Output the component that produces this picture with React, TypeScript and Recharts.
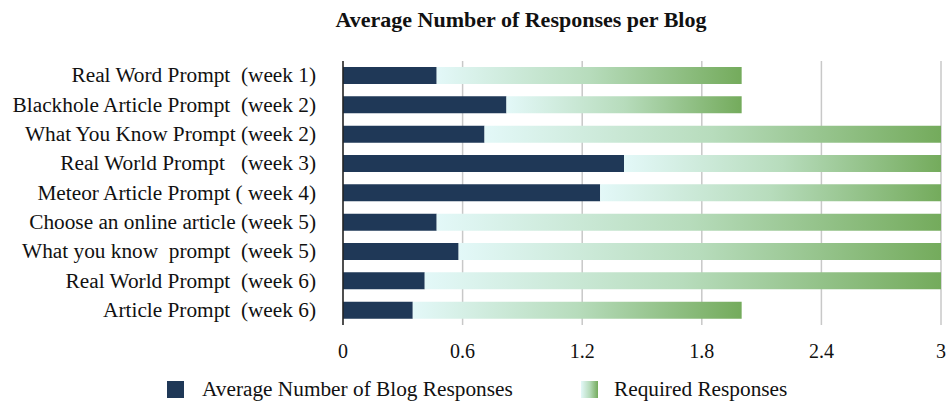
import React from 'react';
import { BarChart, Bar, XAxis, YAxis, CartesianGrid } from 'recharts';

const categories = [
  'Real Word Prompt  (week 1)',
  'Blackhole Article Prompt  (week 2)',
  'What You Know Prompt (week 2)',
  'Real World Prompt   (week 3)',
  'Meteor Article Prompt ( week 4)',
  'Choose an online article (week 5)',
  'What you know  prompt  (week 5)',
  'Real World Prompt  (week 6)',
  'Article Prompt  (week 6)',
];
const averageResponses = [0.47, 0.82, 0.71, 1.41, 1.29, 0.47, 0.58, 0.41, 0.35];
const requiredResponses = [2, 2, 3, 3, 3, 3, 3, 3, 2];
const xTicks = [0, 0.6, 1.2, 1.8, 2.4, 3];

const data = categories.map((name, i) => ({
  name,
  average: averageResponses[i],
  // required bar picks up where the average bar ends
  remaining: requiredResponses[i] - averageResponses[i],
}));

const FONT = '"Liberation Serif"';
const NAVY = '#1f3857';

const YTick = (props: any) => {
  const { x, y, payload } = props;
  return (
    <text x={x - 19} y={y} dy="0.32em" textAnchor="end" style={{ fontFamily: FONT, fontSize: 21.3, whiteSpace: 'pre' }} fill="#111">
      {payload.value}
    </text>
  );
};

const XTick = (props: any) => {
  const { x, y, payload } = props;
  return (
    <text x={x} y={y + 25} textAnchor="middle" style={{ fontFamily: FONT, fontSize: 20 }} fill="#111">
      {payload.value}
    </text>
  );
};

const ChartLegend = () => (
  <div style={{ position: 'absolute', left: 0, top: 377, width: 946, height: 24, fontFamily: FONT, fontSize: 21.3, color: '#111' }}>
    <span style={{ position: 'absolute', left: 167, top: 4, width: 17, height: 17, background: NAVY }} />
    <span style={{ position: 'absolute', left: 202, top: 0, lineHeight: '24px', whiteSpace: 'nowrap' }}>
      Average Number of Blog Responses
    </span>
    <span
      style={{
        position: 'absolute',
        left: 581,
        top: 4,
        width: 17,
        height: 17,
        background: 'linear-gradient(to right, #e3f8f8, #b7dcbc, #74ab5c)',
      }}
    />
    <span style={{ position: 'absolute', left: 614, top: 0, lineHeight: '24px', whiteSpace: 'nowrap' }}>
      Required Responses
    </span>
  </div>
);

export default function App() {
  return (
    <div style={{ position: 'absolute', left: 0, top: 0, width: 946, height: 402, background: '#fff' }}>
      <div
        style={{
          position: 'absolute',
          left: 221,
          top: 9,
          width: 600,
          textAlign: 'center',
          fontFamily: FONT,
          fontWeight: 'bold',
          fontSize: 22,
          lineHeight: '22px',
          color: '#111',
        }}
      >
        Average Number of Responses per Blog
      </div>
      <BarChart
        width={946}
        height={402}
        data={data}
        layout="vertical"
        margin={{ top: 61, right: 5, bottom: 47, left: 0 }}
        barCategoryGap={0}
      >
        <defs>
          <linearGradient id="greenGrad" x1="0" y1="0" x2="1" y2="0">
            <stop offset="0%" stopColor="#e3f8f8" />
            <stop offset="50%" stopColor="#b7dcbc" />
            <stop offset="100%" stopColor="#74ab5c" />
          </linearGradient>
        </defs>
        <CartesianGrid horizontal={false} stroke="#c8c8c8" strokeWidth={1.5} />
        <XAxis
          type="number"
          domain={[0, 3]}
          ticks={xTicks}
          axisLine={false}
          tickLine={false}
          tick={<XTick />}
          interval={0}
        />
        <YAxis
          type="category"
          dataKey="name"
          width={343}
          axisLine={{ stroke: '#222', strokeWidth: 1.5 }}
          tickLine={false}
          tick={<YTick />}
          interval={0}
        />
        <Bar dataKey="average" stackId="a" fill={NAVY} barSize={17} isAnimationActive={false} />
        <Bar dataKey="remaining" stackId="a" fill="url(#greenGrad)" barSize={17} isAnimationActive={false} />
      </BarChart>
      <ChartLegend />
    </div>
  );
}
